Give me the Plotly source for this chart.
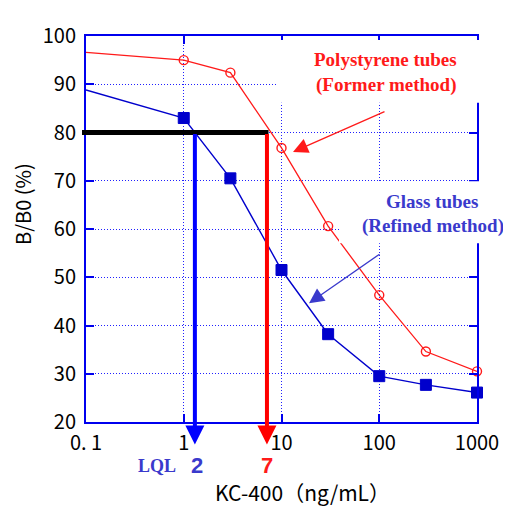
import math
import plotly.graph_objects as go

# ---- data ----
conc = [0.1, 1, 3, 10, 30, 100, 300, 1000]
poly_bb0 = [96.6, 95.0, 92.4, 76.8, 60.6, 46.3, 34.6, 30.5]     # Polystyrene tubes (Former method)
glass_bb0 = [88.8, 83.0, 70.5, 51.5, 38.2, 29.5, 27.7, 26.1]    # Glass tubes (Refined method)
marker_on = [0, 1, 1, 1, 1, 1, 1, 1]
x_tickvals = [0.1, 1, 10, 100, 1000]
x_ticktext = ["0. 1", "1", "10", "100", "1000"]
y_tickvals = [20, 30, 40, 50, 60, 70, 80, 90, 100]
threshold = 80
lql_glass_pos = 1.3      # where the blue arrow drops
lql_poly_pos = 7.1       # where the red arrow drops
lql_glass_label = "2"
lql_poly_label = "7"

XMIN, XMAX = -1, 3
YMIN, YMAX = 20, 100

RED = "#ff1a1a"
BLUE = "#0000cc"
AXBLUE = "#0000ee"
TXTBLUE = "#3a3acc"
JP = "Noto Sans CJK JP"
SERIF = "Liberation Serif"

# page body has an 8px margin -> figure is drawn 8px right/down
PAGE_OFF = 8
PLOT_L, PLOT_R, PLOT_T, PLOT_B = 86, 477, 29, 422
PW, PH = PLOT_R - PLOT_L, PLOT_B - PLOT_T


def xfrac(v):
    return (math.log10(v) - XMIN) / (XMAX - XMIN)


def px(x):
    return (x - PLOT_L) / PW


def py(y):
    return (PLOT_B - y) / PH


fig = go.Figure()

fig.add_trace(go.Scatter(
    x=conc, y=poly_bb0, mode="lines+markers",
    line=dict(color=RED, width=1.3),
    marker=dict(symbol="circle-open", size=[9 * m for m in marker_on], color=RED,
                opacity=1, line=dict(width=1.4, color=RED)),
    showlegend=False, cliponaxis=False,
))
fig.add_trace(go.Scatter(
    x=conc, y=glass_bb0, mode="lines+markers",
    line=dict(color=BLUE, width=1.4),
    marker=dict(symbol="square", size=[11 * m for m in marker_on], color=BLUE,
                opacity=1, line=dict(width=1, color=BLUE)),
    showlegend=False, cliponaxis=False,
))

shapes = [
    # white boxes behind the labels
    dict(type="rect", xref="paper", yref="paper", x0=px(276), x1=px(505), y0=py(97), y1=py(33),
         fillcolor="white", line=dict(width=0), layer="above"),
    dict(type="rect", xref="paper", yref="paper", x0=px(339), x1=px(510), y0=py(240), y1=py(177),
         fillcolor="white", line=dict(width=0), layer="above"),
    # 80 % threshold line
    dict(type="line", xref="paper", yref="y", x0=px(82), x1=xfrac(lql_poly_pos) + 0.004,
         y0=threshold, y1=threshold, line=dict(color="black", width=5), layer="above"),
]

tip_y = YMIN - 23 * (YMAX - YMIN) / PH   # arrow tips a little below the x axis


def label(x, y, text, family, size, color, xref="paper", **kw):
    return dict(xref=xref, yref="paper", x=x, y=y, text=text, showarrow=False,
                xanchor="center", yanchor="middle",
                font=dict(family=family, size=size, color=color), **kw)


annotations = [
    # vertical arrows down to the axis
    dict(xref="x", yref="y", x=math.log10(lql_glass_pos), y=tip_y,
         axref="x", ayref="y", ax=math.log10(lql_glass_pos), ay=threshold,
         showarrow=True, arrowhead=2, arrowsize=0.95, arrowwidth=4, arrowcolor="#0000ff",
         text="", standoff=0),
    dict(xref="x", yref="y", x=math.log10(lql_poly_pos), y=tip_y,
         axref="x", ayref="y", ax=math.log10(lql_poly_pos), ay=threshold,
         showarrow=True, arrowhead=2, arrowsize=0.95, arrowwidth=4, arrowcolor="#ff0000",
         text="", standoff=0),
    # pointer arrows to the curves
    dict(xref="paper", yref="paper", x=px(293), y=py(147),
         ax=93, ay=-41, showarrow=True, arrowhead=2, arrowsize=2.3, arrowwidth=1.3,
         arrowcolor=RED, text="", standoff=0),
    dict(xref="paper", yref="paper", x=px(309), y=py(301),
         ax=72, ay=-50, showarrow=True, arrowhead=2, arrowsize=2.3, arrowwidth=1.3,
         arrowcolor=TXTBLUE, text="", standoff=0),
    # labels
    label(px(385), py(53), "<b>Polystyrene tubes</b>", SERIF, 19, RED),
    label(px(386), py(79), "<b>(Former method)</b>", SERIF, 19, RED),
    label(px(432), py(198), "<b>Glass tubes</b>", SERIF, 19, TXTBLUE),
    label(px(433), py(222), "<b>(Refined method)</b>", SERIF, 19, TXTBLUE),
    label(px(157), py(467), "<b>LQL</b>", SERIF, 18, TXTBLUE),
    label(math.log10(lql_glass_pos) + 0.02, py(466), "<b>" + lql_glass_label + "</b>",
          "Liberation Sans", 22, TXTBLUE, xref="x"),
    label(math.log10(lql_poly_pos), py(466), "<b>" + lql_poly_label + "</b>",
          "Liberation Sans", 22, RED, xref="x"),
    # axis titles
    label(px(302), py(493), "KC-400（ng/mL）", JP, 21, "black"),
    label(px(23), py(200), "B/B0 (%)", JP, 20, "black", textangle=-90),
]

axis_common = dict(
    showline=True, linecolor=AXBLUE, linewidth=2, mirror="ticks",
    ticks="inside", ticklen=8, tickwidth=1.5, tickcolor=AXBLUE,
    showgrid=True, gridcolor="#2020ff", gridwidth=1, griddash="1px,2px",
    zeroline=False, tickfont=dict(family=JP, size=20, color="black"),
)

fig.update_layout(
    width=511 - PAGE_OFF, height=508 - PAGE_OFF,
    margin=dict(l=PLOT_L - PAGE_OFF, r=511 - PLOT_R, t=PLOT_T - PAGE_OFF, b=508 - PLOT_B),
    paper_bgcolor="white", plot_bgcolor="white",
    xaxis=dict(type="log", range=[XMIN, XMAX], tickvals=x_tickvals, ticktext=x_ticktext,
               ticklabelstandoff=2, **axis_common),
    yaxis=dict(range=[YMIN, YMAX], tickvals=y_tickvals, ticklabelstandoff=4, **axis_common),
    shapes=shapes, annotations=annotations,
)

fig.write_html("out.html")
